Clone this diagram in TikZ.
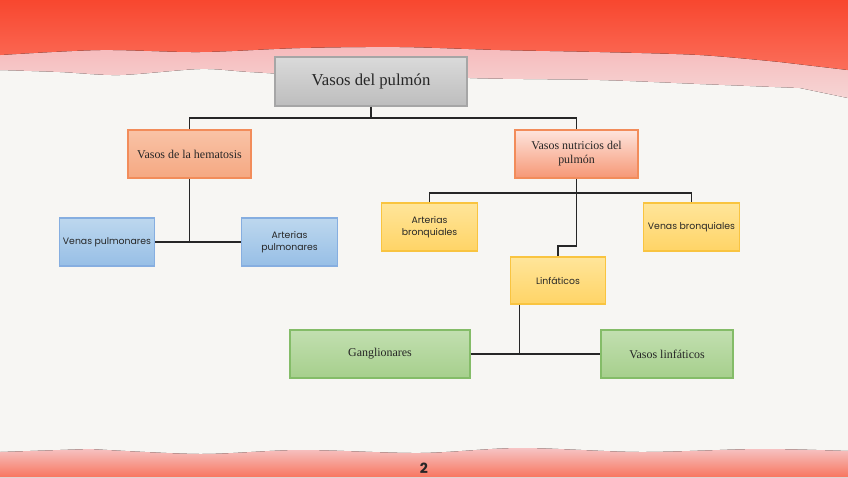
\documentclass[tikz,border=0pt]{standalone}
\usepackage{fontspec}
\setmainfont{Liberation Serif}
\newfontfamily\comicfont{Poppins}
\usetikzlibrary{calc, positioning}

\definecolor{paper}{HTML}{F7F6F3}
\definecolor{washred}{HTML}{F8472F}
\definecolor{washorange}{HTML}{FB6E5A}
\definecolor{washpink}{HTML}{F5A3A6}
\definecolor{washcoral}{HTML}{F7765F}
\definecolor{ink}{HTML}{262626}
\definecolor{grayT}{HTML}{DADADA}
\definecolor{grayB}{HTML}{BDBDBD}
\definecolor{grayL}{HTML}{A6A6A6}
\definecolor{salmonT}{HTML}{F9C3A6}
\definecolor{salmonB}{HTML}{F5A882}
\definecolor{salmonL}{HTML}{F28C5A}
\definecolor{blueT}{HTML}{BDD7EE}
\definecolor{blueB}{HTML}{97BFE6}
\definecolor{blueL}{HTML}{86AEE0}
\definecolor{yellowT}{HTML}{FFE59A}
\definecolor{yellowB}{HTML}{FFD466}
\definecolor{yellowL}{HTML}{F9C440}
\definecolor{greenT}{HTML}{C2DFB0}
\definecolor{greenB}{HTML}{A6CF8C}
\definecolor{greenL}{HTML}{84BC68}

\tikzset{
  box/.style={draw, line width=0.6pt, inner sep=0pt, align=center,
    text=ink, minimum height=0.96cm},
  graybox/.style={box, draw=grayL, top color=grayT, bottom color=grayB},
  salmonbox/.style={box, draw=salmonL, top color=salmonT, bottom color=salmonB,
    minimum width=2.46cm, font=\fontsize{6.8}{8}\selectfont},
  bluebox/.style={box, draw=blueL, top color=blueT, bottom color=blueB,
    minimum width=1.91cm, font=\comicfont\fontsize{5.3}{7}\selectfont},
  yellowbox/.style={box, draw=yellowL, top color=yellowT, bottom color=yellowB,
    minimum width=1.91cm, font=\comicfont\fontsize{5.3}{7}\selectfont},
  greenbox/.style={box, draw=greenL, top color=greenT, bottom color=greenB,
    font=\fontsize{6.8}{8}\selectfont},
  link/.style={line width=0.8pt, draw=ink}
}

\begin{document}
\begin{tikzpicture}[x=0.02cm, y=-0.02cm]
\fill[paper] (0,0) rectangle (848,477);
\useasboundingbox (0,0) rectangle (848,477);

\fill[top color=washpink, bottom color=washpink!40!paper]
  (0,0) -- (848,0) -- (848,98)
  -- plot[smooth] coordinates {(800,88) (700,84) (600,80) (470,78) (400,72)
    (330,76) (250,72) (200,69) (120,75) (60,72) (0,70)} -- cycle;
\fill[top color=washred, bottom color=washorange]
  (0,0) -- (848,0) -- (848,70)
  -- plot[smooth] coordinates {(780,62) (700,55) (600,52) (500,50) (400,47)
    (300,48) (200,52) (100,50) (0,55)} -- cycle;
\fill[top color=washpink!60!paper, bottom color=washcoral]
  (0,477) -- (0,452)
  -- plot[smooth] coordinates {(90,449) (200,454) (300,450) (420,453) (520,448)
    (640,452) (760,449) (848,451)} -- (848,477) -- cycle;

\node[graybox, minimum width=3.84cm, minimum height=0.98cm,
  font=\fontsize{9.5}{11}\selectfont] (main) at (371,81.5) {Vasos del pulmón};
\node[salmonbox] (hema) at (189.5,154) {Vasos de la hematosis};
\node[salmonbox, top color=salmonT!85!red!30, bottom color=salmonB!90!red] (nutri)
  at (576.5,154) {Vasos nutricios del\\pulmón};
\node[bluebox] (venp) at (107,242) {Venas pulmonares};
\node[bluebox] (artp) at (289.5,242) {Arterias\\pulmonares};
\node[yellowbox] (artb) at (429.5,227) {Arterias\\bronquiales};
\node[yellowbox] (venb) at (691.5,227) {Venas bronquiales};
\node[yellowbox, minimum height=0.94cm] (linf) at (558,280.5) {Linfáticos};
\node[greenbox, minimum width=3.6cm] (gang) at (380,354) {Ganglionares};
\node[greenbox, minimum width=2.64cm] (vlin) at (667,354) {Vasos linfáticos};

\coordinate (bus1) at (371,118);
\coordinate (bus2) at (576.5,193);
\coordinate (kink) at (576.5,246);
\coordinate (ltap) at ($(linf.south west)!0.1!(linf.south east)$);

\draw[link] (main.south) -- (bus1);
\draw[link] (hema.north) |- (bus1) -| (nutri.north);
\draw[link] (hema.south) -- (hema.south |- venp.east);
\draw[link] (venp.east) -- (artp.west);
\draw[link] (artb.north) |- (bus2) -| (venb.north);
\draw[link] (nutri.south) -- (kink) -| (linf.north);
\draw[link] (ltap) -- (ltap |- gang.east);
\draw[link] (gang.east) -- (vlin.west);

\node[font=\comicfont\bfseries\fontsize{8}{9}\selectfont, text=ink] (pnum)
  at (424,468) {2};
\end{tikzpicture}
\end{document}
